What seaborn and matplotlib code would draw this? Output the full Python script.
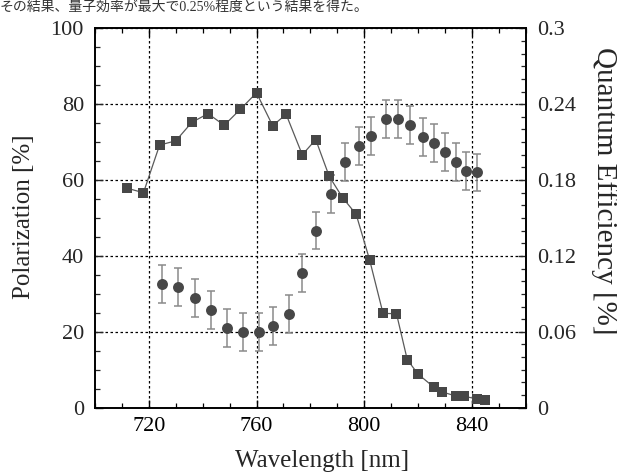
import matplotlib
matplotlib.use('Agg')
import matplotlib.pyplot as plt
import seaborn as sns
import pandas as pd
from matplotlib.ticker import MultipleLocator, FixedLocator

# Quantum efficiency (squares, right axis)
qe_wavelength = [712, 718, 724, 730, 736, 742, 748, 754, 760, 766, 771, 777, 782, 787,
                 792, 797, 802, 807, 812, 816, 820, 826, 829, 834, 837, 842, 845]
qe_values = [0.1735, 0.170, 0.2077, 0.211, 0.2257, 0.2325, 0.2233, 0.236, 0.249, 0.223,
             0.232, 0.200, 0.212, 0.183, 0.166, 0.153, 0.117, 0.0746, 0.0743, 0.038,
             0.0266, 0.016, 0.0124, 0.0093, 0.009, 0.007, 0.006]

# Polarization (circles with error bars, left axis)
pol_wavelength = [725, 731, 737, 743, 749, 755, 761, 766, 772, 777, 782, 787.5,
                  793, 798, 802.5, 808, 812.5, 817, 822, 826, 830, 834, 838, 842]
pol_values = [32.5, 31.9, 28.8, 25.8, 21.1, 19.9, 19.9, 21.5, 24.6, 35.5, 46.7, 56.3,
              64.8, 69.0, 71.6, 76.1, 76.1, 74.5, 71.4, 69.7, 67.3, 64.8, 62.5, 62.0]
pol_error = [5.0, 5.0, 5.0, 5.0, 5.0, 5.0, 5.0, 5.0, 5.0, 5.0, 5.0, 5.0,
             5.0, 5.0, 5.0, 5.0, 5.0, 5.0, 5.0, 5.0, 5.0, 5.0, 5.0, 5.0]

x_ticks = [720, 760, 800, 840]
left_ticks = [0, 20, 40, 60, 80, 100]
right_ticks = [0, 0.06, 0.12, 0.18, 0.24, 0.3]
right_tick_labels = ['0', '0.06', '0.12', '0.18', '0.24', '0.3']

sns.set_style('ticks')
plt.rcParams['font.family'] = ['Liberation Serif', 'Noto Sans CJK JP', 'DejaVu Sans']

qe_df = pd.DataFrame({'wl': qe_wavelength, 'qe': qe_values})
pol_df = pd.DataFrame({'wl': pol_wavelength, 'pol': pol_values, 'err': pol_error})

fig = plt.figure(figsize=(6.17, 4.73), dpi=100)
ax = fig.add_axes([95 / 617, 1 - 407.7 / 473, (525.7 - 95) / 617, (407.7 - 28.3) / 473])
ax2 = ax.twinx()

mark_color = '#474747'
err_color = '#8a8a8a'

# polarization
ax.errorbar(pol_df['wl'], pol_df['pol'], yerr=pol_df['err'], fmt='none',
            ecolor=err_color, elinewidth=1.1, capsize=2.6, capthick=1.1, zorder=3)
sns.scatterplot(data=pol_df, x='wl', y='pol', ax=ax, marker='o', s=62,
                color=mark_color, edgecolor=mark_color, linewidth=0, zorder=4)

# quantum efficiency
sns.lineplot(data=qe_df, x='wl', y='qe', ax=ax2, color='#5a5a5a', linewidth=0.9,
             marker='s', markersize=6.6, markerfacecolor=mark_color,
             markeredgecolor=mark_color, markeredgewidth=0, zorder=4)

ax.set_xlim(700, 860)
ax.set_ylim(0, 100)
ax2.set_ylim(0, 0.3)

ax.xaxis.set_major_locator(FixedLocator(x_ticks))
ax.xaxis.set_minor_locator(MultipleLocator(10))
ax.yaxis.set_major_locator(FixedLocator(left_ticks))
ax.yaxis.set_minor_locator(MultipleLocator(5))
ax2.yaxis.set_major_locator(FixedLocator(right_ticks))
ax2.set_yticklabels(right_tick_labels)
ax2.yaxis.set_minor_locator(MultipleLocator(0.01))

ax.grid(True, which='major', linestyle=(0, (2, 2)), color='black', linewidth=0.9)
ax.set_axisbelow(True)

for a in (ax, ax2):
    for sp in a.spines.values():
        sp.set_visible(True)
        sp.set_color('black')
        sp.set_linewidth(1.2)

ax.tick_params(axis='x', which='both', direction='in', top=True, bottom=True,
               labelsize=16, pad=7, colors='black')
ax.tick_params(axis='y', which='both', direction='in', left=True, right=False,
               labelsize=16, pad=8)
ax2.tick_params(axis='y', which='both', direction='in', right=True, left=False,
                labelsize=16, pad=8)
for a in (ax, ax2):
    a.tick_params(which='major', length=6, width=1)
    a.tick_params(which='minor', length=3.5, width=0.9)

ax.set_xlabel('Wavelength [nm]', fontsize=18, ha='center', va='center')
ax.xaxis.set_label_coords(0.528, -0.14)
ax.set_ylabel('Polarization [%]', fontsize=18, ha='center', va='center')
ax.yaxis.set_label_coords(-0.165, 0.504)
ax2.set_ylabel('Quantum Efficiency [%]', fontsize=21, rotation=-90,
               ha='center', va='center', rotation_mode='anchor')
ax2.yaxis.set_label_coords(1.182, 0.572)

fig.text(0.0, 1 - 1 / 473, 'その結果、量子効率が最大で0.25%程度という結果を得た。',
         fontsize=10, va='top', ha='left', color='#333333')

fig.savefig('out.png', dpi=100)
